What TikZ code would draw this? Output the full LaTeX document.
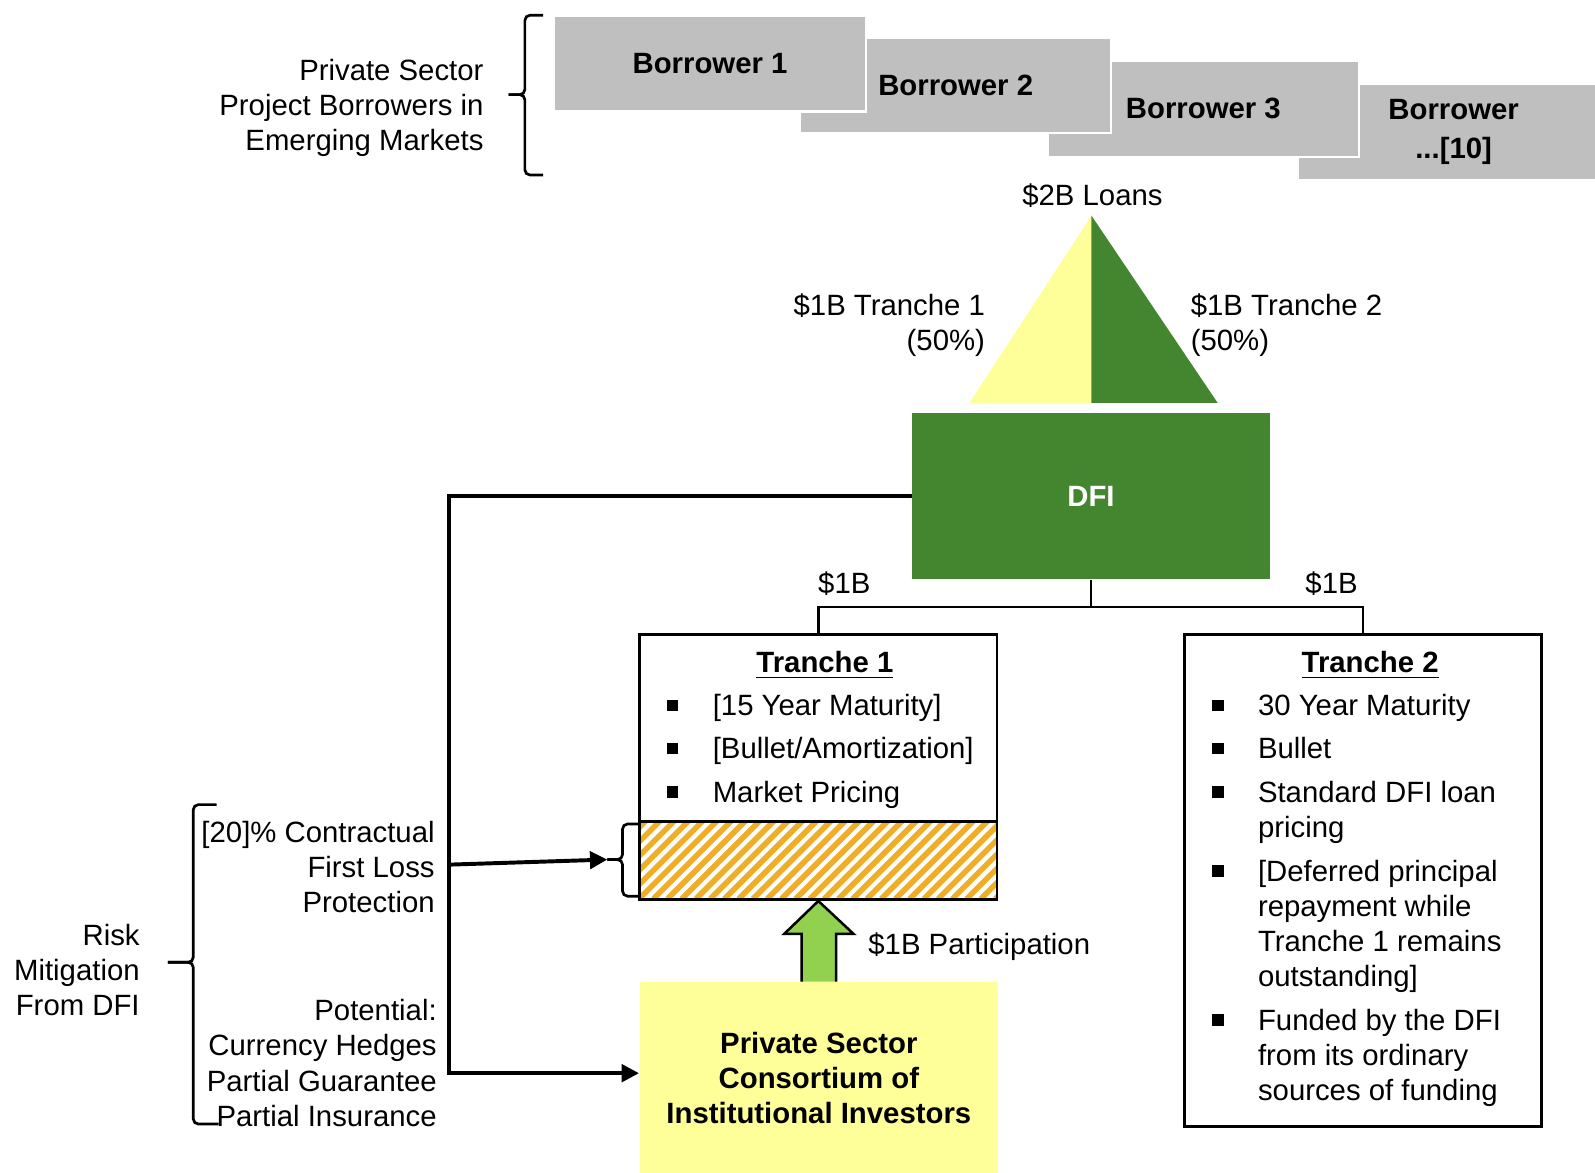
\documentclass[tikz,border=0pt]{standalone}
\usepackage{fontspec}
\setmainfont{Liberation Sans}
\usepackage{xcolor}
\definecolor{borrowgray}{HTML}{BFBFBF}
\definecolor{lightyellow}{HTML}{FFFF99}
\definecolor{dfigreen}{HTML}{43862F}
\definecolor{arrowgreen}{HTML}{92D050}
\definecolor{stripeorange}{HTML}{F0AE28}
\usetikzlibrary{arrows.meta,positioning,calc}
\newcommand{\fs}{\fontsize{8.2}{9.8}\selectfont}
\newcommand{\blt}{\rule[1.3pt]{3.2pt}{3.2pt}}

\begin{document}
\begin{tikzpicture}[
  x=0.01cm, y=-0.01cm,
  font=\fs,
  borrower/.style={fill=borrowgray,draw=white,line width=0.6pt,minimum width=3.06cm,minimum height=0.94cm,align=center,font=\fs\bfseries},
  lbl/.style={inner sep=0pt,align=right},
  tranche/.style={draw,line width=0.8pt,minimum width=3.51cm,inner sep=0pt},
  arr/.style={-{Triangle[length=0.17cm,width=0.17cm]},line width=1.1pt},
  tree/.style={line width=0.7pt},
  brc/.style={line width=0.75pt,rounded corners=0.05cm}]
\useasboundingbox (0,0) rectangle (1568,1153);
\node[borrower] (b4) at (1429,130) {Borrower\\[1pt]...[10]};
\node[borrower] (b3) at (1183,107) {Borrower 3};
\node[borrower] (b2) at (939.5,84) {Borrower 2};
\node[borrower] (b1) at (698,62.5) {Borrower 1};
\coordinate (toptip) at (500,93);
\draw[brc] (534,15) -- (516,15) -- (516,93) -- (toptip);
\draw[brc] (534,172) -- (516,172) -- (516,93) -- (toptip);
\node[lbl,anchor=east] (sector) at (476,106) {Private Sector\\Project Borrowers in\\Emerging Markets};
\node[lbl] (loans) at (1074,192) {\$2B Loans};
\coordinate (apex) at (1073,212);
\fill[lightyellow] (apex) -- (953,396) -- (1073,396) -- cycle;
\fill[dfigreen] (apex) -- (1197,396) -- (1073,396) -- cycle;
\node[lbl,anchor=east] (tr1lbl) at (969,320) {\$1B Tranche 1\\(50\%)};
\node[lbl,anchor=west,align=left] (tr2lbl) at (1170,320) {\$1B Tranche 2\\(50\%)};
\node[fill=dfigreen,minimum width=3.51cm,minimum height=1.63cm,text=white,font=\fs\bfseries] (dfi) at (1072.5,487.5) {DFI};
\node[inner sep=0pt,minimum width=3.51cm,minimum height=0.75cm] (loss) at (804.5,845.5) {};
\begin{scope}
  \clip (loss.south west) rectangle (loss.north east);
  \foreach \s in {-84,-70,...,364}
    \draw[stripeorange,line width=0.055cm] ($(loss.south west)+(\s,0)$) -- ++(90,-90);
\end{scope}
\node[tranche,minimum height=2.61cm,anchor=north] (t1) at (804.5,622) {};
\draw[line width=0.8pt] (loss.north west) -- (loss.north east);
\node[tranche,minimum height=4.84cm,anchor=north] (t2) at (1340,622) {};
\coordinate (split) at ($(dfi.south)+(0,27)$);
\draw[tree] (dfi.south) -- (split);
\draw[tree] (split) -| (t1.north);
\draw[tree] (split) -| (t2.north);
\node[lbl] (amt1) at (830,574) {\$1B};
\node[lbl] (amt2) at (1309,574) {\$1B};
\node[lbl,anchor=base,font=\fs\bfseries] (t1title) at (811,661) {\underline{Tranche 1}};
\node[lbl,anchor=base,font=\fs\bfseries] (t2title) at (1347,661) {\underline{Tranche 2}};
\node[lbl,align=left,anchor=base west] (t1list) at (655,703.5) {\begin{tabular}[t]{@{}p{0.45cm}@{}l@{}}
  \blt & [15 Year Maturity]\\[2.3pt]
  \blt & [Bullet/Amortization]\\[2.3pt]
  \blt & Market Pricing
\end{tabular}};
\node[lbl,align=left,anchor=base west] (t2list) at (1191,703.5) {\begin{tabular}[t]{@{}p{0.45cm}@{}l@{}}
  \blt & 30 Year Maturity\\[2.3pt]
  \blt & Bullet\\[2.3pt]
  \blt & Standard DFI loan\\ & pricing\\[2.5pt]
  \blt & [Deferred principal\\ & repayment while\\ & Tranche 1 remains\\ & outstanding]\\[2.5pt]
  \blt & Funded by the DFI\\ & from its ordinary\\ & sources of funding
\end{tabular}};
\node[fill=lightyellow,minimum width=3.52cm,minimum height=1.88cm,anchor=north,align=center,font=\fs\bfseries] (cons) at (805,965) {Private Sector\\Consortium of\\Institutional Investors};
\draw[fill=arrowgreen,line width=0.7pt] ($(cons.north)+(-17,0)$) -- ++(0,-47) -- ++(-17,0)
  -- ($(loss.south)+(0,2)$) -- ($(cons.north)+(34,-47)$) -- ++(-17,0) -- ++(0,47);
\node[lbl,anchor=west] (part) at (853,931) {\$1B Participation};
\coordinate (losstip) at (597,845);
\draw[brc] (628,810) -- (612,810) -- (612,845) -- (losstip);
\draw[brc] (628,881) -- (612,881) -- (612,845) -- (losstip);
\coordinate (fork) at (441,850);
\coordinate (spine) at (441,1055);
\draw[arr] (dfi.west) -| (spine) -- (cons.west |- spine);
\draw[arr] (fork) -- (losstip);
\coordinate (risktip) at (165,946);
\draw[brc] (213,791) -- (190,791) -- (190,946) -- (risktip);
\draw[brc] (215,1105) -- (190,1105) -- (190,946) -- (risktip);
\node[lbl,anchor=east] (firstloss) at (428,852) {[20]\% Contractual\\First Loss\\Protection};
\node[lbl,anchor=east] (potential) at (430,1045) {Potential:\\Currency Hedges\\Partial Guarantee\\Partial Insurance};
\node[lbl,anchor=east] (riskmit) at (138,954) {Risk\\Mitigation\\From DFI};
\end{tikzpicture}
\end{document}
